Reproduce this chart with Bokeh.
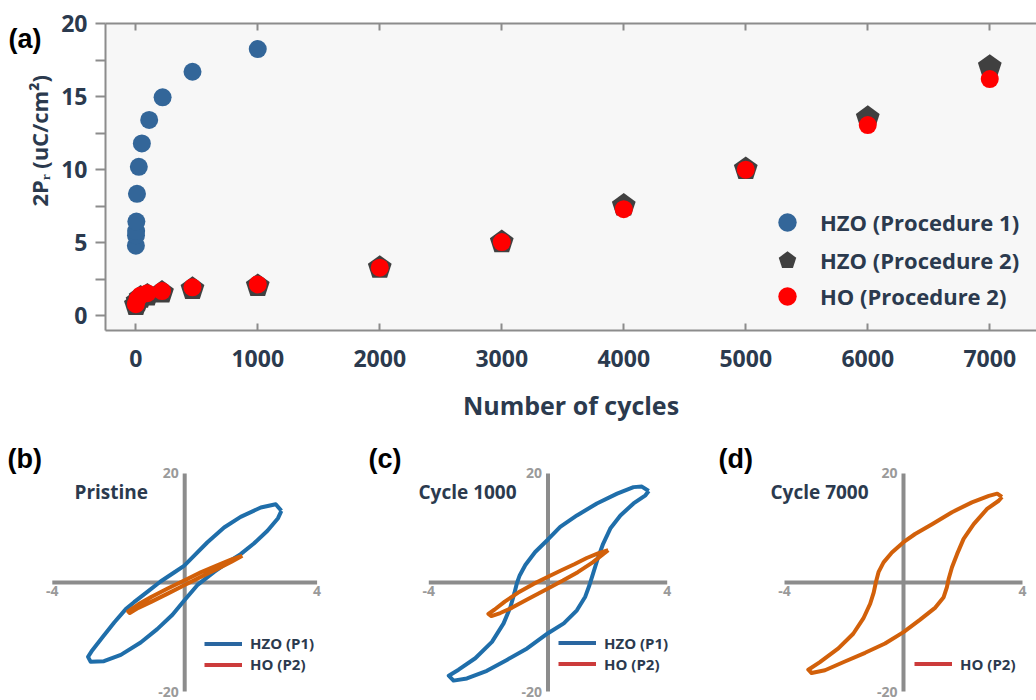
import math
from bokeh.plotting import figure
from bokeh.models import Range1d, Legend, LegendItem, Label, LinearAxis, FixedTicker
from bokeh.layouts import column, row
from bokeh.embed import file_html
from bokeh.resources import INLINE
from bokeh.core.properties import value

# ---------------- data: panel (a) ----------------
hzo_p1_cycles = [1, 2, 3, 5, 10, 25, 50, 110, 220, 465, 1000]
hzo_p1_2pr = [4.8, 5.5, 5.8, 6.45, 8.35, 10.2, 11.8, 13.4, 14.95, 16.7, 18.25]
hzo_p2_cycles = [1, 15, 40, 95, 215, 465, 1000, 2000, 3000, 4000, 5000, 6000, 7000]
hzo_p2_2pr = [0.75, 1.0, 1.25, 1.4, 1.6, 1.85, 2.05, 3.3, 5.05, 7.55, 10.05, 13.55, 17.05]
ho_p2_cycles = [1, 15, 40, 95, 215, 465, 1000, 2000, 3000, 4000, 5000, 6000, 7000]
ho_p2_2pr = [0.8, 1.15, 1.4, 1.55, 1.7, 1.95, 2.15, 3.3, 5.05, 7.3, 10.0, 13.05, 16.2]
x_ticks = [0, 1000, 2000, 3000, 4000, 5000, 6000, 7000]
y_ticks = [0, 5, 10, 15, 20]
legend_labels = ["HZO (Procedure 1)", "HZO (Procedure 2)", "HO (Procedure 2)"]
x_label = "Number of cycles"
y_label = "2P\u1d63 (uC/cm\u00b2)"

# ---------------- data: P-E loops (E in MV/cm, P in uC/cm2) ----------------
e_ticks = [-4, 4]
p_ticks = [-20, 20]

b_hzo_e = [2.92, 2.75, 2.30, 1.69, 1.19, 0.68, 0.28, -0.02, -0.32, -0.73, -1.13, -1.53, -1.78, -2.13, -2.49, -2.79,
           -2.92, -2.84, -2.44, -1.93, -1.33, -0.83, -0.37, -0.02, 0.38, 0.89, 1.29, 1.69, 2.09, 2.50, 2.82]
b_hzo_p = [13.15, 14.37, 13.76, 12.05, 10.09, 7.34, 4.89, 3.06, 1.83, 0.18, -1.71, -3.61, -4.89, -7.34, -10.09, -12.42,
           -13.64, -14.56, -14.43, -13.27, -11.01, -8.56, -5.93, -3.36, -0.49, 1.96, 3.67, 5.20, 7.16, 9.48, 11.80]
b_ho_e = [1.74, 1.4, 1.0, 0.5, 0.0, -0.5, -1.0, -1.4, -1.71, -1.66, -1.4, -1.0, -0.5, 0.0, 0.5, 1.0, 1.4, 1.70]
b_ho_p = [4.89, 4.2, 3.2, 1.9, 0.4, -1.05, -2.6, -4.0, -5.3, -5.6, -4.65, -3.5, -2.0, -0.45, 1.05, 2.55, 3.75, 4.75]

c_hzo_e = [3.38, 3.15, 2.87, 2.32, 1.64, 0.97, 0.41, 0.0, -0.43, -0.76, -0.95, -1.04, -1.13, -1.26, -1.49, -1.88,
           -2.44, -3.0, -3.33, -3.17, -2.72, -2.05, -1.38, -0.70, 0.0, 0.53, 0.97, 1.25, 1.39, 1.51, 1.67, 1.85,
           2.09, 2.43, 2.87, 3.27]
c_hzo_p = [16.8, 17.6, 17.5, 16.3, 14.5, 12.3, 10.2, 7.9, 5.6, 3.2, 1.3, -0.06, -2.0, -4.5, -7.5, -10.9,
           -13.9, -16.0, -17.1, -18.0, -17.6, -16.2, -14.2, -12.1, -9.3, -7.5, -5.1, -2.6, -0.5, 1.6, 4.4, 7.1,
           9.9, 12.3, 14.5, 16.0]
c_ho_e = [2.02, 1.7, 1.3, 0.9, 0.45, 0.0, -0.5, -1.0, -1.45, -1.8, -2.0, -1.9, -1.6, -1.2, -0.7, 0.0, 0.5, 1.0, 1.5, 1.85]
c_ho_p = [5.95, 5.4, 4.5, 3.4, 2.25, 1.05, -0.3, -1.85, -3.5, -5.0, -5.75, -6.15, -5.6, -4.6, -3.1, -1.1, 0.35, 1.9, 3.7, 5.2]

d_ho_e = [3.31, 3.15, 2.87, 2.30, 1.63, 0.96, 0.39, 0.0, -0.39, -0.67, -0.84, -0.93, -1.0, -1.12, -1.35, -1.69,
          -2.19, -2.81, -3.2, -3.09, -2.64, -1.97, -1.29, -0.62, 0.0, 0.56, 1.07, 1.35, 1.46, 1.52, 1.63, 1.80,
          2.02, 2.36, 2.81, 3.2]
d_ho_p = [15.7, 16.3, 15.9, 14.7, 12.9, 10.7, 8.9, 7.4, 5.5, 3.7, 1.9, 0.0, -1.8, -3.9, -6.6, -9.4,
          -12.1, -14.6, -16.0, -16.6, -16.1, -14.5, -12.9, -11.2, -9.1, -6.8, -4.6, -2.7, -0.85, 0.7, 2.8, 5.2,
          8.0, 10.7, 13.5, 15.0]

# ---------------- styles ----------------
DARK = "#2b3a4e"
GRAY = "#8c8c8c"
FONT = "Open Sans"
LETTER_FONT = "Liberation Sans"
BLUE_PT = "#336699"
PENT = "#404040"
RED_PT = "#ff0000"
BLUE_LOOP = "#1f6eaa"
ORANGE_LOOP = "#d2600a"
BLUE_LEG = "#2a66a0"
RED_LEG = "#cc3b3b"
NAN = float("nan")

# ---------------- left strip of panel (a): panel letter and y-axis title ----------------
STRIP_W = 58
pl = figure(width=STRIP_W, height=424, output_backend="svg", toolbar_location=None,
            x_range=Range1d(0, STRIP_W), y_range=Range1d(424, 0), x_axis_type=None, y_axis_type=None,
            min_border=0, outline_line_color=None)
pl.grid.visible = False
pl.text(x=[8], y=[21], text=["(a)"], text_align="left", text_baseline="middle",
        text_font=value(LETTER_FONT), text_font_size="27px", text_font_style="bold", text_color="black")
pl.text(x=[38], y=[162], text=[y_label], angle=math.pi / 2, text_align="center", text_baseline="middle",
        text_font=value(FONT), text_font_size="22px", text_font_style="bold", text_color=DARK)

# ---------------- panel (a) ----------------
pa = figure(width=1036 - STRIP_W, height=424, output_backend="svg", toolbar_location=None,
            x_range=Range1d(-248, 7383), y_range=Range1d(-1.0, 20.0),
            min_border_left=105 - STRIP_W, min_border_right=0, min_border_top=23, min_border_bottom=94,
            background_fill_color="#f7f7f7", border_fill_color="white", outline_line_color=None)
pa.grid.visible = False

xa = pa.xaxis[0]
xa.ticker = FixedTicker(ticks=x_ticks)
xa.axis_label = x_label
xa.axis_label_text_font = FONT
xa.axis_label_text_font_size = "25px"
xa.axis_label_text_font_style = "bold"
xa.axis_label_text_color = DARK
xa.axis_label_standoff = 18
xa.major_label_text_font = FONT
xa.major_label_text_font_size = "23px"
xa.major_label_text_font_style = "bold"
xa.major_label_text_color = DARK
xa.major_label_standoff = 19
xa.major_tick_in = 7
xa.major_tick_out = 0
xa.minor_tick_line_color = None
xa.axis_line_color = GRAY
xa.axis_line_width = 2
xa.major_tick_line_color = GRAY
xa.major_tick_line_width = 2

ya = pa.yaxis[0]
ya.ticker = FixedTicker(ticks=y_ticks, minor_ticks=[(a + b) / 2 for a, b in zip(y_ticks[:-1], y_ticks[1:])])
ya.major_label_text_font = FONT
ya.major_label_text_font_size = "23px"
ya.major_label_text_font_style = "bold"
ya.major_label_text_color = DARK
ya.major_label_standoff = 8
ya.major_tick_in = 0
ya.major_tick_out = 10
ya.minor_tick_in = 0
ya.minor_tick_out = 10
ya.axis_line_color = GRAY
ya.axis_line_width = 2
ya.major_tick_line_color = GRAY
ya.major_tick_line_width = 2
ya.minor_tick_line_color = GRAY
ya.minor_tick_line_width = 2

top_axis = LinearAxis(ticker=FixedTicker(ticks=x_ticks), major_label_text_font_size="8px",
                      major_label_text_color=None, major_label_standoff=0, major_tick_in=7, major_tick_out=0,
                      minor_tick_line_color=None, axis_line_color=GRAY, axis_line_width=2,
                      major_tick_line_color=GRAY, major_tick_line_width=2)
pa.add_layout(top_axis, "above")

r_blue = pa.scatter(hzo_p1_cycles, hzo_p1_2pr, marker="circle", size=18, fill_color=BLUE_PT, line_color=None)
r_pent = pa.ngon(x=hzo_p2_cycles, y=hzo_p2_2pr, radius=12.5, radius_units="screen", n=5,
                 fill_color=PENT, line_color=None)
r_red = pa.scatter(ho_p2_cycles, ho_p2_2pr, marker="circle", size=18, fill_color=RED_PT, line_color=None)

for lab, rend, vy in zip(legend_labels, [r_blue, r_pent, r_red], [85, 47, 11]):
    lg = Legend(items=[LegendItem(label=lab, renderers=[rend])],
                location=(659, vy), orientation="vertical", glyph_width=46, glyph_height=46,
                label_standoff=10, padding=0, margin=0, border_line_color=None, background_fill_alpha=0,
                label_text_font=FONT, label_text_font_size="22px", label_text_font_style="bold",
                label_text_color=DARK)
    pa.add_layout(lg)


# ---------------- panels (b)-(d) ----------------
def loop_panel(width, x0, x1, letter, letter_x, title, title_x, loops, leg, leg_x, leg_vy):
    p = figure(width=width, height=276, output_backend="svg", toolbar_location=None,
               x_range=Range1d(x0, x1), y_range=Range1d(-21.65, 28.99),
               x_axis_type=None, y_axis_type=None, min_border=0, outline_line_color=None,
               background_fill_color="white", border_fill_color="white")
    p.grid.visible = False
    p.segment(x0=[e_ticks[0], 0], y0=[0, p_ticks[0]], x1=[e_ticks[1], 0], y1=[0, p_ticks[1]],
              line_color=GRAY, line_width=4)
    p.text(x=e_ticks, y=[0, 0], text=[str(t) for t in e_ticks], text_align="center", text_baseline="top",
           y_offset=3, text_font=value(FONT), text_font_size="14px", text_font_style="bold",
           text_color="#9a9a9a")
    p.text(x=[0, 0], y=p_ticks, text=[str(t) for t in p_ticks], text_align="right", text_baseline="middle",
           x_offset=-6, text_font=value(FONT), text_font_size="14px", text_font_style="bold",
           text_color="#9a9a9a")
    for e, pv, col in loops:
        p.line(e + e[:1], pv + pv[:1], line_color=col, line_width=4, line_join="round")
    for (lab, col), vy in zip(leg, leg_vy):
        dummy = p.line(x=[NAN], y=[NAN], line_color=col, line_width=4)
        lg = Legend(items=[LegendItem(label=lab, renderers=[dummy])], location=(leg_x, vy),
                    orientation="vertical", glyph_width=38, glyph_height=19, label_height=19, spacing=0,
                    label_standoff=8, padding=0, margin=0, border_line_color=None, background_fill_alpha=0,
                    label_text_font=FONT, label_text_font_size="15px", label_text_font_style="bold",
                    label_text_color=DARK)
        p.add_layout(lg)
    p.add_layout(Label(x=letter_x, y=242, x_units="screen", y_units="screen", text=letter,
                       text_font=LETTER_FONT, text_font_size="27px", text_font_style="bold",
                       text_color="black", text_baseline="middle", text_align="left"))
    p.add_layout(Label(x=title_x, y=209, x_units="screen", y_units="screen", text=title,
                       text_font=FONT, text_font_size="19px", text_font_style="bold",
                       text_color=DARK, text_baseline="middle", text_align="left"))
    return p


pb = loop_panel(345, -5.565, 4.858, "(b)", 7, "Pristine", 74,
                [(b_hzo_e, b_hzo_p, BLUE_LOOP), (b_ho_e, b_ho_p, ORANGE_LOOP)],
                [("HZO (P1)", BLUE_LEG), ("HO (P2)", RED_LEG)], 204, [47.0, 26.0])
pc = loop_panel(345, -6.795, 4.782, "(c)", 23, "Cycle 1000", 73,
                [(c_hzo_e, c_hzo_p, BLUE_LOOP), (c_ho_e, c_ho_p, ORANGE_LOOP)],
                [("HZO (P1)", BLUE_LEG), ("HO (P2)", RED_LEG)], 213, [47.5, 26.5])
pd_ = loop_panel(346, -7.160, 4.471, "(d)", 28, "Cycle 7000", 80,
                 [(d_ho_e, d_ho_p, ORANGE_LOOP)],
                 [("HO (P2)", RED_LEG)], 224, [26.2])

layout = column(row(pl, pa, spacing=0), row(pb, pc, pd_, spacing=0), spacing=0)
open("out.html", "w").write(file_html(layout, INLINE))
